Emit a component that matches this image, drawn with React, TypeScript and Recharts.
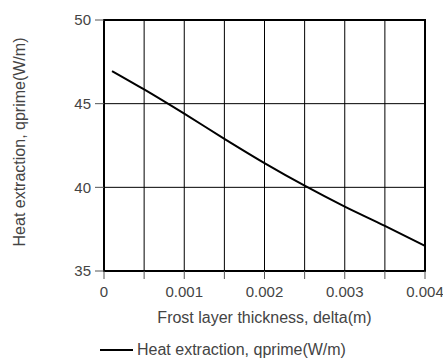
import React from "react";
import {
  LineChart,
  Line,
  XAxis,
  YAxis,
  CartesianGrid,
  ReferenceArea,
  Legend,
} from "recharts";

// frost thickness (m) vs heat extraction (W/m)
const delta = [0.0001, 0.0005, 0.001, 0.0015, 0.002, 0.0025, 0.003, 0.0035, 0.004];
const qprime = [46.95, 45.85, 44.4, 42.9, 41.45, 40.1, 38.85, 37.7, 36.5];

const xTicks = [0, 0.0005, 0.001, 0.0015, 0.002, 0.0025, 0.003, 0.0035, 0.004];
const xTickLabels = ["0", "", "0.001", "", "0.002", "", "0.003", "", "0.004"];
const yTicks = [35, 40, 45, 50];

const seriesName = "Heat extraction, qprime(W/m)";
const xTitle = "Frost layer thickness, delta(m)";
const yTitle = "Heat extraction, qprime(W/m)";

const font = "'Liberation Sans', Arial, sans-serif";
const textColor = "#444";

const data = delta.map((d, i) => ({ delta: d, q: qprime[i] }));

const LegendContent = () => (
  <div
    style={{
      display: "flex",
      alignItems: "center",
      height: 20,
      fontFamily: font,
      fontSize: 16,
      color: textColor,
      whiteSpace: "nowrap",
    }}
  >
    <svg width={37} height={10}>
      <line x1={0} y1={5} x2={33} y2={5} stroke="#000" strokeWidth={2} />
    </svg>
    <span>{seriesName}</span>
  </div>
);

export default function App() {
  return (
    <div style={{ position: "absolute", left: 0, top: 0, background: "#fff" }}>
      <LineChart
        width={443}
        height={363}
        data={data}
        margin={{ top: 20, right: 18, bottom: 32, left: 0 }}
      >
        <CartesianGrid stroke="#000" strokeWidth={1} />
        <XAxis
          dataKey="delta"
          type="number"
          domain={[0, 0.004]}
          ticks={xTicks}
          tickFormatter={(v: number) => xTickLabels[xTicks.indexOf(v)] ?? ""}
          height={40}
          axisLine={{ stroke: "#000", strokeWidth: 2 }}
          tickLine={{ stroke: "#555" }}
          tickSize={8}
          tickMargin={7}
          tick={{ fill: textColor, fontSize: 15, fontFamily: font }}
          label={({ viewBox }: any) => (
            <text
              x={viewBox.x + viewBox.width / 2}
              y={323}
              textAnchor="middle"
              fill={textColor}
              fontSize={16}
              fontFamily={font}
            >
              {xTitle}
            </text>
          )}
        />
        <YAxis
          type="number"
          domain={[35, 50]}
          ticks={yTicks}
          width={104}
          axisLine={{ stroke: "#000", strokeWidth: 2 }}
          tickLine={{ stroke: "#555" }}
          tickSize={9}
          tickMargin={4}
          tick={{ fill: textColor, fontSize: 15, fontFamily: font }}
          label={() => (
            <text
              x={25}
              y={142}
              textAnchor="middle"
              transform="rotate(-90, 25, 142)"
              fill={textColor}
              fontSize={16}
              fontFamily={font}
            >
              {yTitle}
            </text>
          )}
        />
        <ReferenceArea
          x1={0}
          x2={0.004}
          y1={35}
          y2={50}
          fill="none"
          stroke="#000"
          strokeWidth={2}
          fillOpacity={0}
        />
        <Line
          type="monotone"
          dataKey="q"
          name={seriesName}
          stroke="#000"
          strokeWidth={2}
          dot={false}
          isAnimationActive={false}
        />
        <Legend
          content={LegendContent}
          wrapperStyle={{ left: 100, top: 340, width: 300, height: 20 }}
        />
      </LineChart>
    </div>
  );
}
